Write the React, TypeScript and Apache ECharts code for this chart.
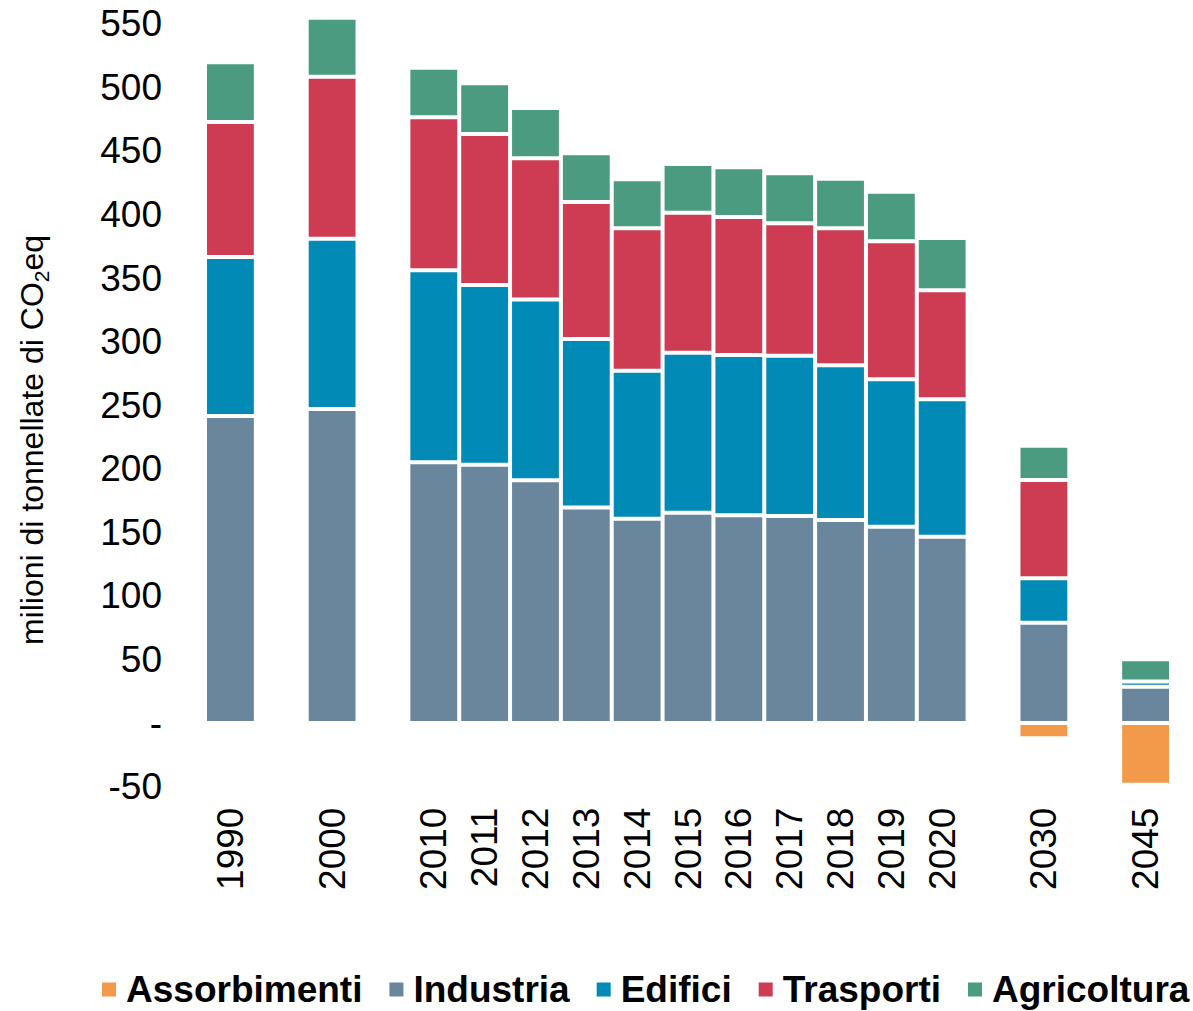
import React, { useEffect, useRef } from "react";
import * as echarts from "echarts";

const categories = ["1990", "", "2000", "", "2010", "2011", "2012", "2013", "2014", "2015", "2016", "2017", "2018", "2019", "2020", "", "2030", "", "2045"];
const assorbimenti = [null, null, null, null, null, null, null, null, null, null, null, null, null, null, null, null, -12, null, -48.5];
const industria = [241.5, null, 247, null, 205, 203.2, 190.9, 169.6, 160.7, 165.4, 163.4, 162.8, 159.7, 154.4, 146.5, null, 78.9, null, 28.6];
const edifici = [125, null, 133.9, null, 151.1, 141.3, 142.1, 132.4, 116.4, 125.9, 126.0, 126.1, 121.6, 115.9, 108.1, null, 34.9, null, 4];
const trasporti = [106.2, null, 127.4, null, 120.3, 118.8, 111.1, 107.8, 112.0, 110.1, 108.6, 104.1, 107.8, 108.6, 85.7, null, 77.3, null, 0];
const agricoltura = [47, null, 46.4, null, 39.0, 39.8, 39.6, 38.3, 38.5, 38.3, 39.1, 39.3, 39.0, 39.0, 41.2, null, 27.0, null, 17.6];

const seriesNames = ["Assorbimenti", "Industria", "Edifici", "Trasporti", "Agricoltura"];
const seriesColors = ["#F2994A", "#69869C", "#028AB6", "#CD3C52", "#4A9B7F"];
const seriesData = [assorbimenti, industria, edifici, trasporti, agricoltura];

const yAxisTitle = "milioni di tonnellate di CO{sub|2}eq";

const FONT = "'Liberation Sans', Arial, Helvetica, sans-serif";

export default function App() {
  const ref = useRef<HTMLDivElement>(null);
  useEffect(() => {
    document.body.style.margin = "0";
    if (!ref.current) return;
    const chart = echarts.init(ref.current, null, { renderer: "svg" });
    chart.setOption({
      animation: false,
      textStyle: { fontFamily: FONT },
      grid: { left: 205, right: 22, top: 23.7, bottom: 224.4, containLabel: false },
      legend: {
        data: seriesNames,
        left: 100,
        top: 971,
        padding: 0,
        itemWidth: 16,
        itemHeight: 16,
        itemGap: 25,
        icon: "rect",
        textStyle: { fontFamily: FONT, fontSize: 37, fontWeight: "bold", color: "#000", padding: [0, 0, 0, 4] },
      },
      graphic: [
        {
          type: "text",
          x: 32,
          y: 440,
          rotation: Math.PI / 2,
          style: {
            text: yAxisTitle,
            fontSize: 32,
            fontFamily: FONT,
            fill: "#000",
            align: "center",
            verticalAlign: "middle",
            rich: {
              sub: { fontSize: 21, verticalAlign: "bottom", fill: "#000", fontFamily: FONT, padding: [0, 0, -4, 0] },
            },
          },
        },
      ],
      xAxis: {
        type: "category",
        data: categories,
        axisLine: { show: false },
        axisTick: { show: false },
        axisLabel: {
          interval: 0,
          rotate: 90,
          margin: 21,
          fontSize: 37,
          color: "#000",
          fontFamily: FONT,
        },
      },
      yAxis: {
        type: "value",
        min: -50,
        max: 550,
        interval: 50,
        splitLine: { show: false },
        axisLine: { show: false },
        axisTick: { show: false },
        axisLabel: {
          margin: 43,
          fontSize: 37,
          color: "#000",
          fontFamily: FONT,
          formatter: (v: number) => (v === 0 ? "-" : String(v)),
        },
      },
      series: seriesNames.map((name, i) => ({
        name,
        type: "bar",
        stack: "total",
        data: seriesData[i],
        barCategoryGap: "0%",
        barWidth: "100%",
        clip: false,
        itemStyle: { color: seriesColors[i], borderColor: "#fff", borderWidth: 2 },
      })),
    });
    return () => chart.dispose();
  }, []);
  return <div ref={ref} style={{ width: 1193, height: 1011 }} />;
}
